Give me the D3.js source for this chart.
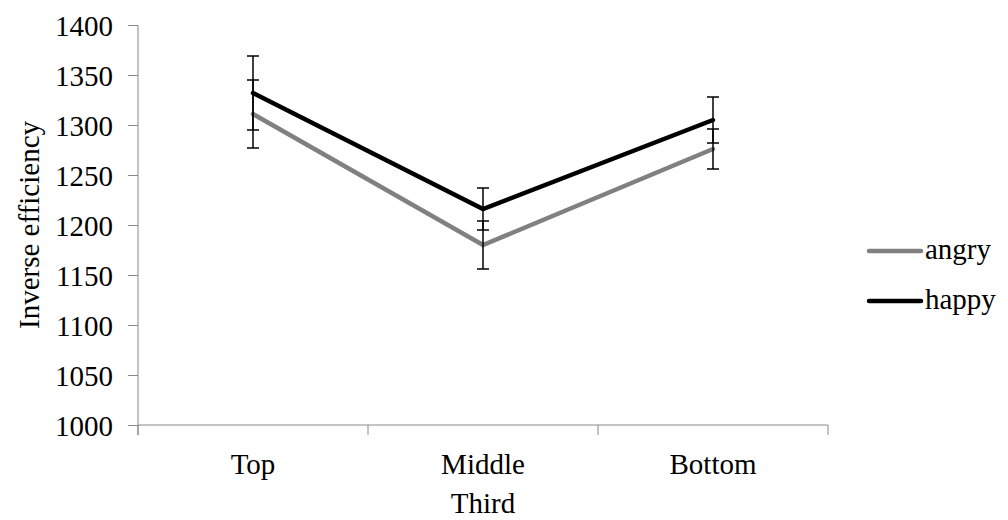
<!DOCTYPE html>
<html>
<head>
<meta charset="utf-8">
<script src="https://cdn.jsdelivr.net/npm/d3@7"></script>
<style>
  body { margin: 0; background: #fff; }
  svg text { font-family: "Liberation Serif", "Times New Roman", "DejaVu Serif", "Noto Serif", serif !important; }
</style>
</head>
<body>
<div id="chart"></div>
<script>
// data
const categories = ["Top", "Middle", "Bottom"];
const angry = [1311, 1180, 1276];
const happy = [1332, 1216, 1305];
const angryErr = [34, 24, 20];
const happyErr = [37, 21, 23];
const yTicks = [1000, 1050, 1100, 1150, 1200, 1250, 1300, 1350, 1400];

const seriesList = [
  { name: "angry", values: angry, err: angryErr, color: "#808080" },
  { name: "happy", values: happy, err: happyErr, color: "#000000" }
];

const W = 1008, H = 520;
const plot = { left: 138, right: 828, top: 25, bottom: 425 };
const fontSize = 29;
const axisColor = "#888888";
const serif = "'Liberation Serif', 'Times New Roman', 'DejaVu Serif', serif";

const svg = d3.select("#chart").append("svg")
  .attr("width", W)
  .attr("height", H)
  .attr("font-family", serif);

const x = d3.scaleBand()
  .domain(categories)
  .range([plot.left, plot.right]);

const y = d3.scaleLinear()
  .domain([1000, 1400])
  .range([plot.bottom, plot.top]);

// y axis
const yAxis = svg.append("g")
  .attr("transform", `translate(${plot.left},0)`)
  .call(d3.axisLeft(y).tickValues(yTicks).tickSize(10).tickPadding(15).tickFormat(d3.format("d")));
yAxis.attr("font-family", serif);
yAxis.select(".domain").attr("stroke", axisColor).attr("d", `M0,${plot.top}V${plot.bottom + 10}`);
yAxis.selectAll(".tick line").attr("stroke", axisColor);
yAxis.selectAll(".tick text")
  .attr("font-size", fontSize)
  .attr("fill", "#000")
  .attr("dy", "0.35em");

// x axis, ticks at band edges
const edges = categories.map(c => x(c)).concat([plot.right]);
svg.append("line")
  .attr("x1", plot.left).attr("x2", plot.right)
  .attr("y1", plot.bottom).attr("y2", plot.bottom)
  .attr("stroke", axisColor);
svg.selectAll(".xtick")
  .data(edges)
  .join("line")
  .attr("class", "xtick")
  .attr("x1", d => d).attr("x2", d => d)
  .attr("y1", plot.bottom).attr("y2", plot.bottom + 10)
  .attr("stroke", axisColor);
svg.selectAll(".xlabel")
  .data(categories)
  .join("text")
  .attr("class", "xlabel")
  .attr("x", d => x(d) + x.bandwidth() / 2)
  .attr("y", 474)
  .attr("text-anchor", "middle")
  .attr("font-size", fontSize)
  .text(d => d);

// axis titles
svg.append("text")
  .attr("x", (plot.left + plot.right) / 2)
  .attr("y", 513)
  .attr("text-anchor", "middle")
  .attr("font-size", fontSize)
  .text("Third");

svg.append("text")
  .attr("transform", `translate(39,${(plot.top + plot.bottom) / 2}) rotate(-90)`)
  .attr("text-anchor", "middle")
  .attr("font-size", fontSize)
  .text("Inverse efficiency");

// lines
const cx = c => x(c) + x.bandwidth() / 2;
const line = d3.line()
  .x((d, i) => cx(categories[i]))
  .y(d => y(d));

seriesList.forEach(s => {
  svg.append("path")
    .datum(s.values)
    .attr("d", line)
    .attr("fill", "none")
    .attr("stroke", s.color)
    .attr("stroke-width", 4.5)
    .attr("stroke-linecap", "round")
    .attr("stroke-linejoin", "miter");
});

// error bars
seriesList.forEach(s => {
  const g = svg.append("g");
  s.values.forEach((v, i) => {
    const px = cx(categories[i]);
    const hi = y(v + s.err[i]), lo = y(v - s.err[i]);
    g.append("line").attr("x1", px).attr("x2", px).attr("y1", hi).attr("y2", lo)
      .attr("stroke", "#000").attr("stroke-width", 1.5);
    [hi, lo].forEach(yy => {
      g.append("line").attr("x1", px - 6).attr("x2", px + 6).attr("y1", yy).attr("y2", yy)
        .attr("stroke", "#000").attr("stroke-width", 1.5);
    });
  });
});

// legend
const legend = svg.append("g");
seriesList.forEach((s, i) => {
  const ly = 251 + i * 50;
  legend.append("line")
    .attr("x1", 869).attr("x2", 921)
    .attr("y1", ly).attr("y2", ly)
    .attr("stroke", s.color)
    .attr("stroke-width", 4.5)
    .attr("stroke-linecap", "round");
  legend.append("text")
    .attr("x", 925)
    .attr("y", ly + 8)
    .attr("font-size", fontSize)
    .text(s.name);
});
</script>
</body>
</html>
